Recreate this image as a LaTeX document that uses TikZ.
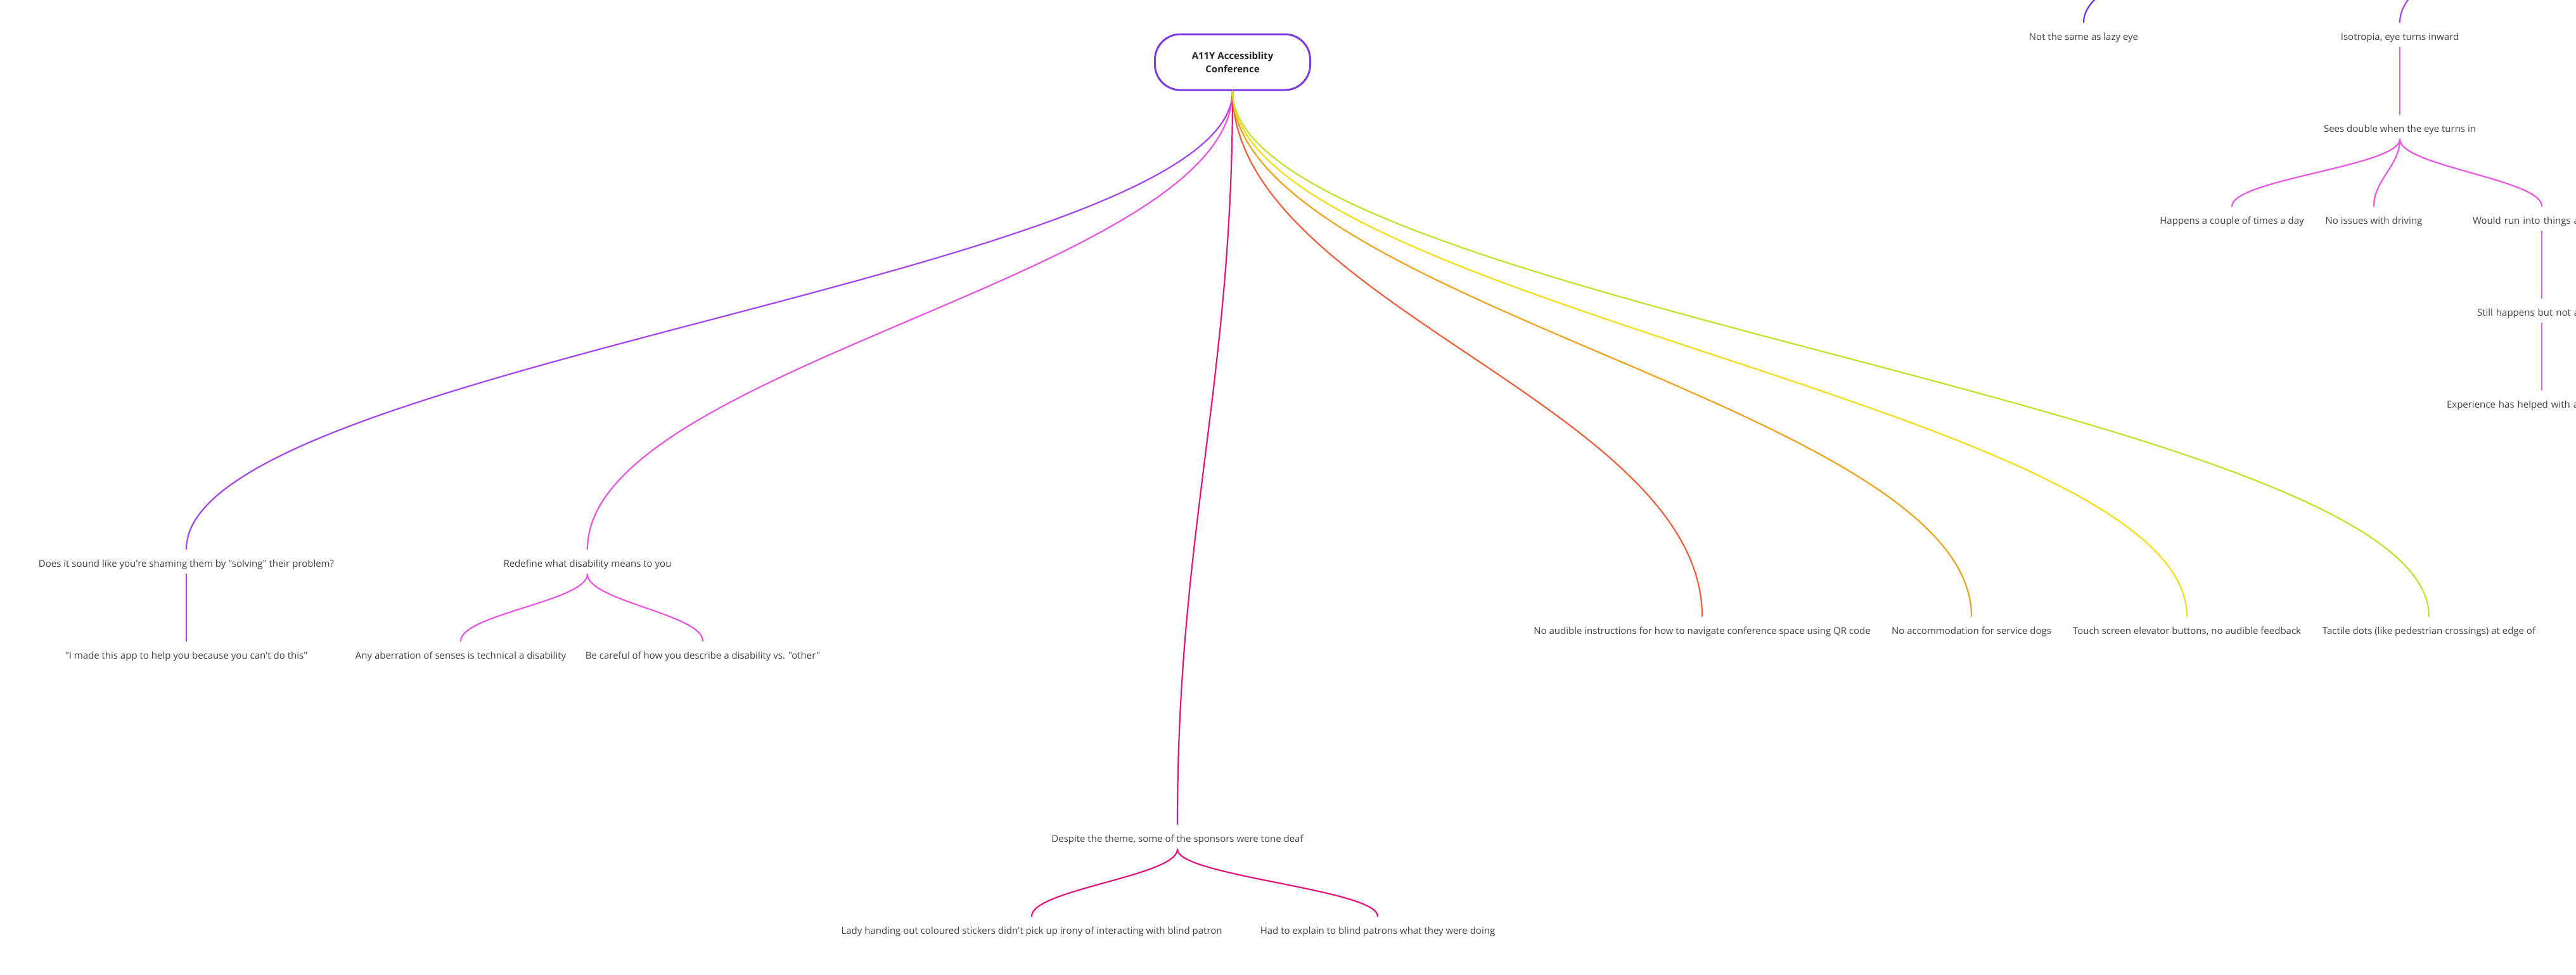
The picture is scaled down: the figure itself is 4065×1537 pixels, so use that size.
\documentclass[tikz,border=0pt]{standalone}
\usepackage{fontspec}
\setmainfont{Open Sans}[Ligatures=TeXOff]
\usetikzlibrary{calc}

\definecolor{textgrey}{HTML}{404040}
\definecolor{rootgrey}{HTML}{262626}
\definecolor{rootline}{HTML}{7B3CE6}
\definecolor{lazyline}{HTML}{6A34E4}
\definecolor{violetline}{HTML}{A245EE}
\definecolor{magentaline}{HTML}{E656DE}
\definecolor{crimsonline}{HTML}{E2157A}
\definecolor{redline}{HTML}{EE5F3C}
\definecolor{orangeline}{HTML}{EEA21E}
\definecolor{yellowline}{HTML}{F2DE18}
\definecolor{limeline}{HTML}{C4E02E}

\tikzset{
  topic/.style={minimum height=39pt, inner sep=0pt, text=textgrey,
    text height=20pt, text depth=4pt, font=\fontsize{15}{20}\selectfont},
  central/.style={draw=rootline, line width=3pt, rounded corners=40pt,
    minimum width=245pt, minimum height=88pt, align=center, text=rootgrey,
    font=\fontsize{15}{21}\selectfont\bfseries},
  branch/.style={line width=2.2pt, line cap=round,
    to path={.. controls ($(\tikztostart)!0.4!(\tikztostart|-\tikztotarget)$)
      and ($(\tikztotarget)!0.4!(\tikztotarget|-\tikztostart)$) .. (\tikztotarget)}}
}

\begin{document}
\begin{tikzpicture}[x=1pt, y=-1pt]
\fill[white] (0,0) rectangle (4065,1537);
\useasboundingbox (0,0) rectangle (4065,1537);

\node[central] (root) at (1945,98) {A11Y Accessiblity\\Conference};

\node[topic] (shaming) at (294,886) {Does it sound like you're shaming them by "solving" their problem?};
\node[topic] (app) at (294,1031) {"I made this app to help you because you can't do this"};
\node[topic] (redefine) at (927,886) {Redefine what disability means to you};
\node[topic] (aberration) at (727,1031) {Any aberration of senses is technical a disability};
\node[topic] (careful) at (1109,1031) {Be careful of how you describe a disability vs. "other"};
\node[topic] (sponsors) at (1858,1320) {Despite the theme, some of the sponsors were tone deaf};
\node[topic] (stickers) at (1628,1465) {Lady handing out coloured stickers didn't pick up irony of interacting with blind patron};
\node[topic] (explain) at (2174,1465) {Had to explain to blind patrons what they were doing};
\node[topic] (audible) at (2686,992) {No audible instructions for how to navigate conference space using QR code};
\node[topic] (dogs) at (3111,992) {No accommodation for service dogs};
\node[topic] (elevator) at (3451,992) {Touch screen elevator buttons, no audible feedback};
\node[topic] (tactile) at (3833,992) {Tactile dots (like pedestrian crossings) at edge of};

\coordinate (lazyup) at (3688,-218);
\coordinate (isoup) at (4087,-216);
\node[topic] (lazy) at (3288,55) {Not the same as lazy eye};
\node[topic] (isotropia) at (3787,55) {Isotropia, eye turns inward};
\node[topic] (double) at (3787,200) {Sees double when the eye turns in};
\node[topic] (happens) at (3522,345) {Happens a couple of times a day};
\node[topic] (driving) at (3746,345) {No issues with driving};
\node[topic, text width=218pt, align=left] (runinto) at (4011,345) {Would run into things a};
\node[topic, text width=204pt, align=left] (still) at (4011,490) {Still happens but not a};
\node[topic, text width=300pt, align=left] (experience) at (4011,635) {Experience has helped with ac};

\draw[branch, violetline] (root.south) to (shaming.north);
\draw[branch, violetline] (shaming.south) to (app.north);
\draw[branch, magentaline] (root.south) to (redefine.north);
\draw[branch, magentaline] (redefine.south) to (aberration.north);
\draw[branch, magentaline] (redefine.south) to (careful.north);
\draw[branch, crimsonline] (root.south) to (sponsors.north);
\draw[branch, crimsonline] (sponsors.south) to (stickers.north);
\draw[branch, crimsonline] (sponsors.south) to (explain.north);
\draw[branch, redline] (root.south) to (audible.north);
\draw[branch, orangeline] (root.south) to (dogs.north);
\draw[branch, yellowline] (root.south) to (elevator.north);
\draw[branch, limeline] (root.south) to (tactile.north);

\draw[branch, lazyline] (lazyup) to (lazy.north);
\draw[branch, violetline] (isoup) to (isotropia.north);
\draw[branch, magentaline] (isotropia.south) to (double.north);
\draw[branch, magentaline] (double.south) to (happens.north);
\draw[branch, magentaline] (double.south) to (driving.north);
\draw[branch, magentaline] (double.south) to (runinto.north);
\draw[branch, magentaline] (runinto.south) to (still.north);
\draw[branch, magentaline] (still.south) to (experience.north);
\end{tikzpicture}
\end{document}
